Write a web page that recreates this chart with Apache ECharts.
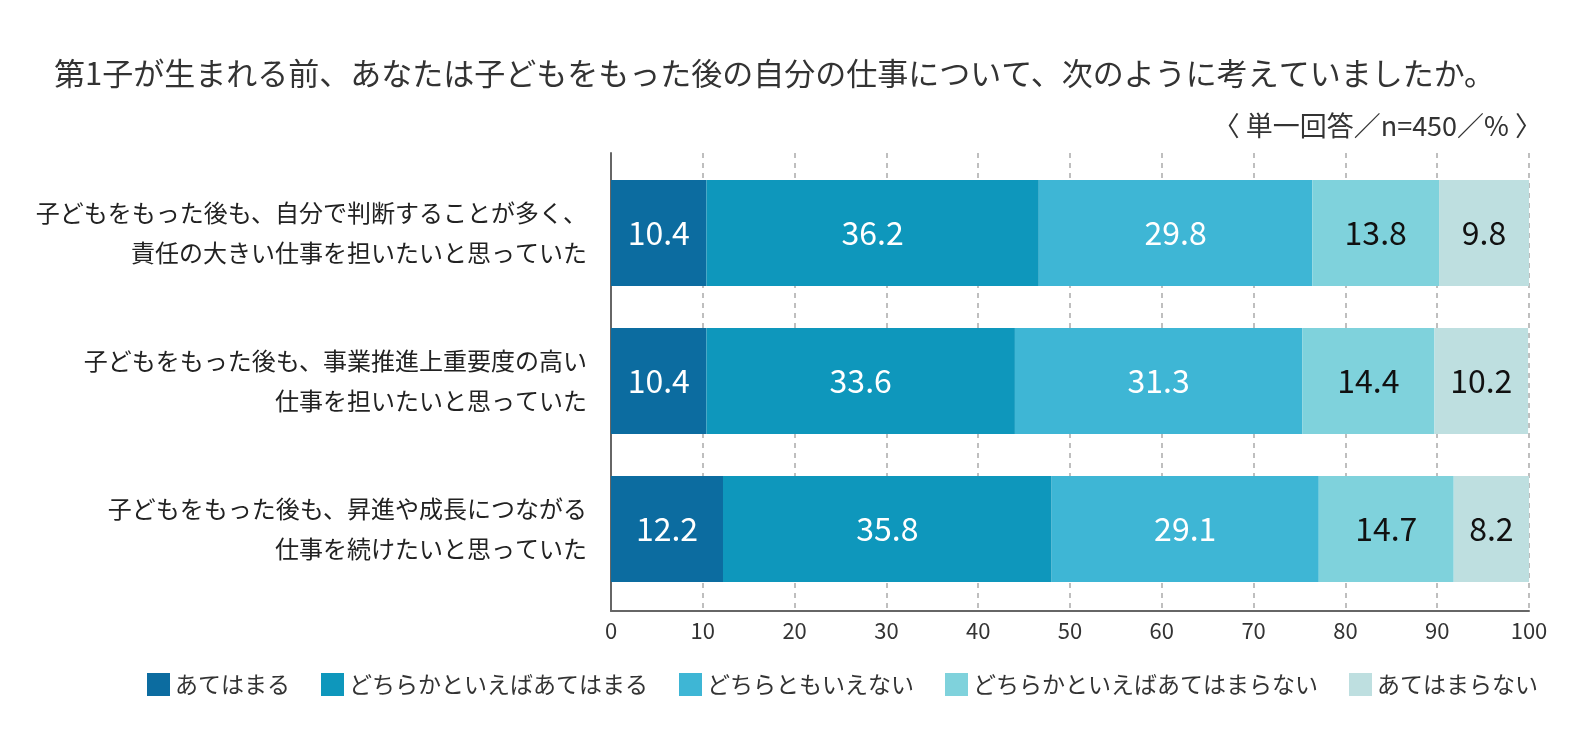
<!DOCTYPE html>
<html>
<head>
<meta charset="utf-8">
<script src="https://cdn.jsdelivr.net/npm/echarts@6/dist/echarts.min.js"></script>
<style>
  html, body { margin: 0; padding: 0; background: #fff; }
  #chart { width: 1580px; height: 745px; }
</style>
</head>
<body>
<div id="chart"></div>
<script>
var categories = [
    '子どもをもった後も、自分で判断することが多く、\n責任の大きい仕事を担いたいと思っていた',
    '子どもをもった後も、事業推進上重要度の高い\n仕事を担いたいと思っていた',
    '子どもをもった後も、昇進や成長につながる\n仕事を続けたいと思っていた'
];
var seriesNames = ['あてはまる', 'どちらかといえばあてはまる', 'どちらともいえない', 'どちらかといえばあてはまらない', 'あてはまらない'];
var valApply = [10.4, 10.4, 12.2];
var valRatherApply = [36.2, 33.6, 35.8];
var valNeither = [29.8, 31.3, 29.1];
var valRatherNot = [13.8, 14.4, 14.7];
var valNot = [9.8, 10.2, 8.2];
var xTicks = [0, 10, 20, 30, 40, 50, 60, 70, 80, 90, 100];

var colors = ['#0c6ca0', '#0e97bc', '#3eb6d5', '#7fd2dc', '#bedfe0'];
var labelColors = ['#fff', '#fff', '#fff', '#111', '#111'];
var allValues = [valApply, valRatherApply, valNeither, valRatherNot, valNot];

var FONT = '"Noto Sans CJK JP", "Noto Sans", sans-serif';

var chart = echarts.init(document.getElementById('chart'));

var series = [];
for (var i = 0; i < seriesNames.length; i++) {
    series.push({
        name: seriesNames[i],
        type: 'bar',
        stack: 'total',
        xAxisIndex: 0,
        yAxisIndex: 0,
        barWidth: 106,
        data: allValues[i],
        itemStyle: { color: colors[i] },
        label: {
            show: true,
            position: 'inside',
            color: labelColors[i],
            fontSize: 32,
            fontFamily: FONT,
            formatter: function(p) { return p.value.toFixed(1); }
        },
        emphasis: { disabled: true }
    });
}

var option = {
    animation: false,
    textStyle: { fontFamily: FONT },
    title: [{
        text: '第1子が生まれる前、あなたは子どもをもった後の自分の仕事について、次のように考えていましたか。',
        left: 49,
        top: 53,
        textStyle: { fontSize: 31, fontWeight: 'normal', color: '#333', fontFamily: FONT }
    }, {
        text: '〈 単一回答／n=450／% 〉',
        right: 33,
        top: 107,
        textStyle: { fontSize: 27, fontWeight: 'normal', color: '#333', fontFamily: FONT }
    }],
    legend: {
        bottom: 44,
        left: 142,
        itemWidth: 23,
        itemHeight: 23,
        itemGap: 31,
        icon: 'rect',
        textStyle: { fontSize: 23, color: '#333', fontFamily: FONT },
        data: seriesNames
    },
    grid: [
        // bars
        { left: 611, right: 51, top: 159, bottom: 142, containLabel: false },
        // frame: axis lines, dashed grid, tick labels
        { left: 611, right: 51, top: 153, bottom: 134, containLabel: false }
    ],
    xAxis: [{
        gridIndex: 0,
        type: 'value',
        min: 0,
        max: 100,
        show: false
    }, {
        gridIndex: 1,
        type: 'value',
        min: 0,
        max: 100,
        interval: 10,
        axisLine: { show: true, onZero: false, lineStyle: { color: '#666', width: 2 } },
        axisTick: { show: false },
        axisLabel: {
            fontSize: 22,
            color: '#333',
            margin: 9,
            formatter: function(v) { return xTicks.indexOf(v) >= 0 ? String(v) : ''; }
        },
        splitLine: { show: true, lineStyle: { color: '#aaa', type: [5, 5], width: 1.5 } }
    }],
    yAxis: [{
        gridIndex: 0,
        type: 'category',
        inverse: true,
        data: categories,
        axisLine: { show: false },
        axisTick: { show: false },
        axisLabel: {
            fontSize: 24,
            color: '#222',
            lineHeight: 40,
            align: 'right',
            margin: 24
        }
    }, {
        gridIndex: 1,
        type: 'value',
        min: 0,
        max: 1,
        axisLine: { show: true, onZero: false, lineStyle: { color: '#666', width: 2 } },
        axisTick: { show: false },
        axisLabel: { show: false },
        splitLine: { show: false }
    }],
    series: series
};

chart.setOption(option);
</script>
</body>
</html>
